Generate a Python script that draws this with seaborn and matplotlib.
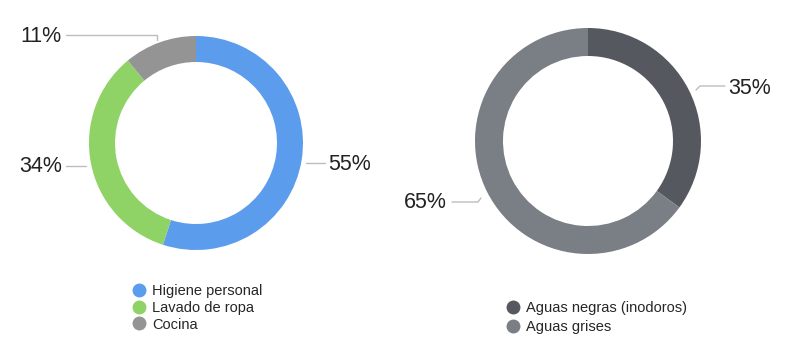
import matplotlib
matplotlib.use("Agg")
import matplotlib.pyplot as plt
from matplotlib.lines import Line2D
import seaborn as sns

# ---- data ----
uso_labels = ["Higiene personal", "Lavado de ropa", "Cocina"]
uso_values = [55, 34, 11]
tipo_labels = ["Aguas negras (inodoros)", "Aguas grises"]
tipo_values = [35, 65]

sns.set_theme(style="white")
plt.rcParams['font.family'] = ['Liberation Sans', 'DejaVu Sans']

uso_colors = sns.color_palette(["#5C9CEC", "#8FD266", "#949494"])
tipo_colors = sns.color_palette(["#55585E", "#7A7E85"])

W, H = 790, 359
fig = plt.figure(figsize=(W / 100, H / 100), dpi=100)
ax = fig.add_axes([0, 0, 1, 1])
ax.set_xlim(0, W)
ax.set_ylim(0, H)
ax.set_aspect("equal")
ax.axis("off")

def Y(y):
    return H - y

# left donut
ax.pie(uso_values, colors=uso_colors, startangle=90, counterclock=False,
       center=(196, Y(143)), radius=107,
       wedgeprops=dict(width=26, linewidth=0))
# right donut
ax.pie(tipo_values, colors=tipo_colors, startangle=90, counterclock=False,
       center=(588, Y(141)), radius=113,
       wedgeprops=dict(width=28, linewidth=0))
ax.set_xlim(0, W)
ax.set_ylim(0, H)

lc = "#BDBDBD"
fs = 15.5
tc = "#222222"
# left labels
ax.plot([66, 157, 157], [Y(35), Y(35), Y(40)], color=lc, lw=1)
ax.text(62, Y(36), f"{uso_values[2]}%", ha="right", va="center", fontsize=fs, color=tc)
ax.plot([66, 86], [Y(166), Y(166)], color=lc, lw=1)
ax.text(62, Y(167), f"{uso_values[1]}%", ha="right", va="center", fontsize=fs, color=tc)
ax.plot([306, 325], [Y(163), Y(163)], color=lc, lw=1)
ax.text(328, Y(164), f"{uso_values[0]}%", ha="left", va="center", fontsize=fs, color=tc)
# right labels
ax.plot([696, 700, 725], [Y(90), Y(86), Y(86)], color=lc, lw=1)
ax.text(728, Y(88), f"{tipo_values[0]}%", ha="left", va="center", fontsize=fs, color=tc)
ax.plot([452, 478, 481], [Y(202), Y(202), Y(198)], color=lc, lw=1)
ax.text(447, Y(203), f"{tipo_values[1]}%", ha="right", va="center", fontsize=fs, color=tc)

def handles(labels, colors):
    return [Line2D([], [], marker="o", linestyle="", markersize=9,
                   markerfacecolor=c, markeredgecolor=c, label=l)
            for l, c in zip(labels, colors)]

leg1 = ax.legend(handles=handles(uso_labels, uso_colors), loc="upper left",
                 bbox_to_anchor=(124 / W, 1 - 277 / H), frameon=False,
                 fontsize=10.5, handletextpad=0.35, labelspacing=0.18,
                 handlelength=1.1, borderpad=0)
ax.add_artist(leg1)
ax.legend(handles=handles(tipo_labels, tipo_colors), loc="upper left",
          bbox_to_anchor=(498 / W, 1 - 294 / H), frameon=False,
          fontsize=10.5, handletextpad=0.35, labelspacing=0.3,
          handlelength=1.1, borderpad=0)

fig.savefig("out.png", dpi=100, facecolor="white")
